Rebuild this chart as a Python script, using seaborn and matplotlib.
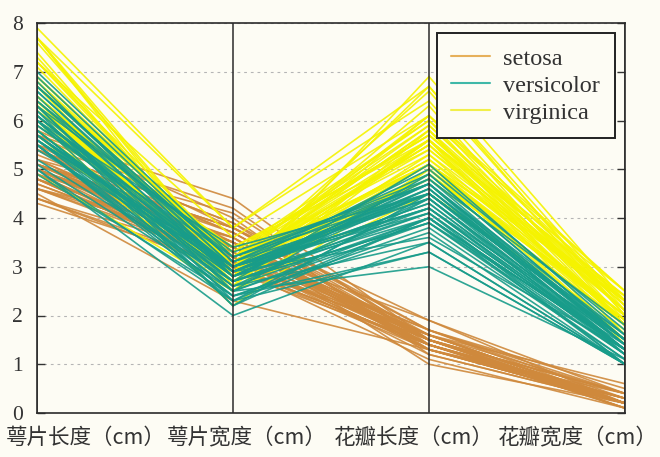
import matplotlib
matplotlib.use("Agg")
import matplotlib.pyplot as plt
import matplotlib.colors as mcolors
import pandas as pd
import seaborn as sns

# Axis labels (one per measured feature) and class names
features = ["萼片长度（cm）", "萼片宽度（cm）", "花瓣长度（cm）", "花瓣宽度（cm）"]
species = ["setosa", "versicolor", "virginica"]
y_ticks = [0, 1, 2, 3, 4, 5, 6, 7, 8]

# Iris measurements, one list per species and feature
setosa_sepal_length = [5.1, 4.9, 4.7, 4.6, 5.0, 5.4, 4.6, 5.0, 4.4, 4.9, 5.4, 4.8, 4.8, 4.3, 5.8, 5.7, 5.4,
                       5.1, 5.7, 5.1, 5.4, 5.1, 4.6, 5.1, 4.8, 5.0, 5.0, 5.2, 5.2, 4.7, 4.8, 5.4, 5.2, 5.5,
                       4.9, 5.0, 5.5, 4.9, 4.4, 5.1, 5.0, 4.5, 4.4, 5.0, 5.1, 4.8, 5.1, 4.6, 5.3, 5.0]
setosa_sepal_width = [3.5, 3.0, 3.2, 3.1, 3.6, 3.9, 3.4, 3.4, 2.9, 3.1, 3.7, 3.4, 3.0, 3.0, 4.0, 4.4, 3.9,
                      3.5, 3.8, 3.8, 3.4, 3.7, 3.6, 3.3, 3.4, 3.0, 3.4, 3.5, 3.4, 3.2, 3.1, 3.4, 4.1, 4.2,
                      3.1, 3.2, 3.5, 3.6, 3.0, 3.4, 3.5, 2.3, 3.2, 3.5, 3.8, 3.0, 3.8, 3.2, 3.7, 3.3]
setosa_petal_length = [1.4, 1.4, 1.3, 1.5, 1.4, 1.7, 1.4, 1.5, 1.4, 1.5, 1.5, 1.6, 1.4, 1.1, 1.2, 1.5, 1.3,
                       1.4, 1.7, 1.5, 1.7, 1.5, 1.0, 1.7, 1.9, 1.6, 1.6, 1.5, 1.4, 1.6, 1.6, 1.5, 1.5, 1.4,
                       1.5, 1.2, 1.3, 1.4, 1.3, 1.5, 1.3, 1.3, 1.3, 1.6, 1.9, 1.4, 1.6, 1.4, 1.5, 1.4]
setosa_petal_width = [0.2, 0.2, 0.2, 0.2, 0.2, 0.4, 0.3, 0.2, 0.2, 0.1, 0.2, 0.2, 0.1, 0.1, 0.2, 0.4, 0.4,
                      0.3, 0.3, 0.3, 0.2, 0.4, 0.2, 0.5, 0.2, 0.2, 0.4, 0.2, 0.2, 0.2, 0.2, 0.4, 0.1, 0.2,
                      0.2, 0.2, 0.2, 0.1, 0.2, 0.2, 0.3, 0.3, 0.2, 0.6, 0.4, 0.3, 0.2, 0.2, 0.2, 0.2]

versicolor_sepal_length = [7.0, 6.4, 6.9, 5.5, 6.5, 5.7, 6.3, 4.9, 6.6, 5.2, 5.0, 5.9, 6.0, 6.1, 5.6, 6.7, 5.6,
                           5.8, 6.2, 5.6, 5.9, 6.1, 6.3, 6.1, 6.4, 6.6, 6.8, 6.7, 6.0, 5.7, 5.5, 5.5, 5.8, 6.0,
                           5.4, 6.0, 6.7, 6.3, 5.6, 5.5, 5.5, 6.1, 5.8, 5.0, 5.6, 5.7, 5.7, 6.2, 5.1, 5.7]
versicolor_sepal_width = [3.2, 3.2, 3.1, 2.3, 2.8, 2.8, 3.3, 2.4, 2.9, 2.7, 2.0, 3.0, 2.2, 2.9, 2.9, 3.1, 3.0,
                          2.7, 2.2, 2.5, 3.2, 2.8, 2.5, 2.8, 2.9, 3.0, 2.8, 3.0, 2.9, 2.6, 2.4, 2.4, 2.7, 2.7,
                          3.0, 3.4, 3.1, 2.3, 3.0, 2.5, 2.6, 3.0, 2.6, 2.3, 2.7, 3.0, 2.9, 2.9, 2.5, 2.8]
versicolor_petal_length = [4.7, 4.5, 4.9, 4.0, 4.6, 4.5, 4.7, 3.3, 4.6, 3.9, 3.5, 4.2, 4.0, 4.7, 3.6, 4.4, 4.5,
                           4.1, 4.5, 3.9, 4.8, 4.0, 4.9, 4.7, 4.3, 4.4, 4.8, 5.0, 4.5, 3.5, 3.8, 3.7, 3.9, 5.1,
                           4.5, 4.5, 4.7, 4.4, 4.1, 4.0, 4.4, 4.6, 4.0, 3.3, 4.2, 4.2, 4.2, 4.3, 3.0, 4.1]
versicolor_petal_width = [1.4, 1.5, 1.5, 1.3, 1.5, 1.3, 1.6, 1.0, 1.3, 1.4, 1.0, 1.5, 1.0, 1.4, 1.3, 1.4, 1.5,
                          1.0, 1.5, 1.1, 1.8, 1.3, 1.5, 1.2, 1.3, 1.4, 1.4, 1.7, 1.5, 1.0, 1.1, 1.0, 1.2, 1.6,
                          1.5, 1.6, 1.5, 1.3, 1.3, 1.3, 1.2, 1.4, 1.2, 1.0, 1.3, 1.2, 1.3, 1.3, 1.1, 1.3]

virginica_sepal_length = [6.3, 5.8, 7.1, 6.3, 6.5, 7.6, 4.9, 7.3, 6.7, 7.2, 6.5, 6.4, 6.8, 5.7, 5.8, 6.4, 6.5,
                          7.7, 7.7, 6.0, 6.9, 5.6, 7.7, 6.3, 6.7, 7.2, 6.2, 6.1, 6.4, 7.2, 7.4, 7.9, 6.4, 6.3,
                          6.1, 7.7, 6.3, 6.4, 6.0, 6.9, 6.7, 6.9, 5.8, 6.8, 6.7, 6.7, 6.3, 6.5, 6.2, 5.9]
virginica_sepal_width = [3.3, 2.7, 3.0, 2.9, 3.0, 3.0, 2.5, 2.9, 2.5, 3.6, 3.2, 2.7, 3.0, 2.5, 2.8, 3.2, 3.0,
                         3.8, 2.6, 2.2, 3.2, 2.8, 2.8, 2.7, 3.3, 3.2, 2.8, 3.0, 2.8, 3.0, 2.8, 3.8, 2.8, 2.8,
                         2.6, 3.0, 3.4, 3.1, 3.0, 3.1, 3.1, 3.1, 2.7, 3.2, 3.3, 3.0, 2.5, 3.0, 3.4, 3.0]
virginica_petal_length = [6.0, 5.1, 5.9, 5.6, 5.8, 6.6, 4.5, 6.3, 5.8, 6.1, 5.1, 5.3, 5.5, 5.0, 5.1, 5.3, 5.5,
                          6.7, 6.9, 5.0, 5.7, 4.9, 6.7, 4.9, 5.7, 6.0, 4.8, 4.9, 5.6, 5.8, 6.1, 6.4, 5.6, 5.1,
                          5.6, 6.1, 5.6, 5.5, 4.8, 5.4, 5.6, 5.1, 5.1, 5.9, 5.7, 5.2, 5.0, 5.2, 5.4, 5.1]
virginica_petal_width = [2.5, 1.9, 2.1, 1.8, 2.2, 2.1, 1.7, 1.8, 1.8, 2.5, 2.0, 1.9, 2.1, 2.0, 2.4, 2.3, 1.8,
                         2.2, 2.3, 1.5, 2.3, 2.0, 2.0, 1.8, 2.1, 1.8, 1.8, 1.8, 2.1, 1.6, 1.9, 2.0, 2.2, 1.5,
                         1.4, 2.3, 2.4, 1.8, 1.8, 2.1, 2.4, 2.3, 1.9, 2.3, 2.5, 2.3, 1.9, 2.0, 2.3, 1.8]

measurements = {
    "setosa": [setosa_sepal_length, setosa_sepal_width, setosa_petal_length, setosa_petal_width],
    "versicolor": [versicolor_sepal_length, versicolor_sepal_width, versicolor_petal_length, versicolor_petal_width],
    "virginica": [virginica_sepal_length, virginica_sepal_width, virginica_petal_length, virginica_petal_width],
}

# Long-form table: one row per (flower, axis)
rows = []
sample_id = 0
for sp in species:
    cols = measurements[sp]
    for i in range(len(cols[0])):
        for j, col in enumerate(cols):
            rows.append({"sample": sample_id, "axis": j, "value": col[i], "species": sp})
        sample_id += 1
long_df = pd.DataFrame(rows)

palette = {"setosa": "#cf893c", "versicolor": "#189c8a", "virginica": "#f5f300"}
legend_palette = {"setosa": "#e6b05a", "versicolor": "#3fb8a8", "virginica": "#f1ef4a"}
layer = {"setosa": 2.0, "virginica": 2.1, "versicolor": 2.2}
bg = "#fdfcf4"

sns.set_style("white")
plt.rcParams["font.family"] = ["Liberation Serif", "Noto Sans CJK SC", "DejaVu Sans"]

fig = plt.figure(figsize=(6.6, 4.57), dpi=100, facecolor=bg)
ax = fig.add_axes([37 / 660, 1 - 413 / 457, (625 - 37) / 660, (413 - 23) / 457])
ax.set_facecolor(bg)

sns.lineplot(data=long_df, x="axis", y="value", hue="species", hue_order=species,
             units="sample", estimator=None, palette=palette, linewidth=1.2, alpha=0.9,
             sort=False, legend=False, ax=ax)

# Layer classes so versicolor sits on top, setosa underneath
color_to_species = {mcolors.to_hex(c): s for s, c in palette.items()}
for ln in ax.lines:
    sp = color_to_species.get(mcolors.to_hex(ln.get_color()))
    if sp is not None:
        ln.set_zorder(layer[sp])

# Vertical coordinate axes
for j in range(len(features)):
    ax.axvline(j, color="#2b2b2b", linewidth=1.1, zorder=3)

ax.set_xlim(0, len(features) - 1)
ax.set_ylim(0, 8)
ax.set_yticks(y_ticks)
ax.set_yticklabels([str(t) for t in y_ticks], fontsize=15.5, color="#333333")
ax.set_xticks(range(len(features)))
ax.set_xticklabels([""] * len(features))
ax.tick_params(axis="y", direction="in", length=6, width=1, left=True, right=True, colors="#333333",
               labelcolor="#333333", pad=10)
ax.tick_params(axis="x", length=0)
ax.set_xlabel("")
ax.set_ylabel("")
ax.grid(axis="y", color="#b5b5b5", linestyle=(0, (2.5, 3.5)), linewidth=0.8, zorder=1)
ax.set_axisbelow(True)
for sp in ax.spines.values():
    sp.set_color("#2b2b2b")
    sp.set_linewidth(1.2)
    sp.set_zorder(4)

# Feature names under the plot
label_centers = [86, 247, 414, 578]
for name, xc in zip(features, label_centers):
    fig.text(xc / 660, 1 - 438 / 457, name, ha="center", va="center", fontsize=15.5,
             color="#333333", family=["Noto Sans CJK SC", "DejaVu Sans"])

handles = [plt.Line2D([], [], color=legend_palette[s], linewidth=1.5) for s in species]
leg = ax.legend(handles, species, loc="upper right", fontsize=17.5, frameon=True, fancybox=False,
                framealpha=1, facecolor=bg, edgecolor="#222222", handlelength=1.6,
                handletextpad=0.55, labelspacing=0.2, borderpad=0.6, borderaxespad=0.42)
leg.get_frame().set_linewidth(1.4)
leg.set_zorder(5)
for t in leg.get_texts():
    t.set_color("#333333")

fig.savefig("out.png", dpi=100, facecolor=bg)
